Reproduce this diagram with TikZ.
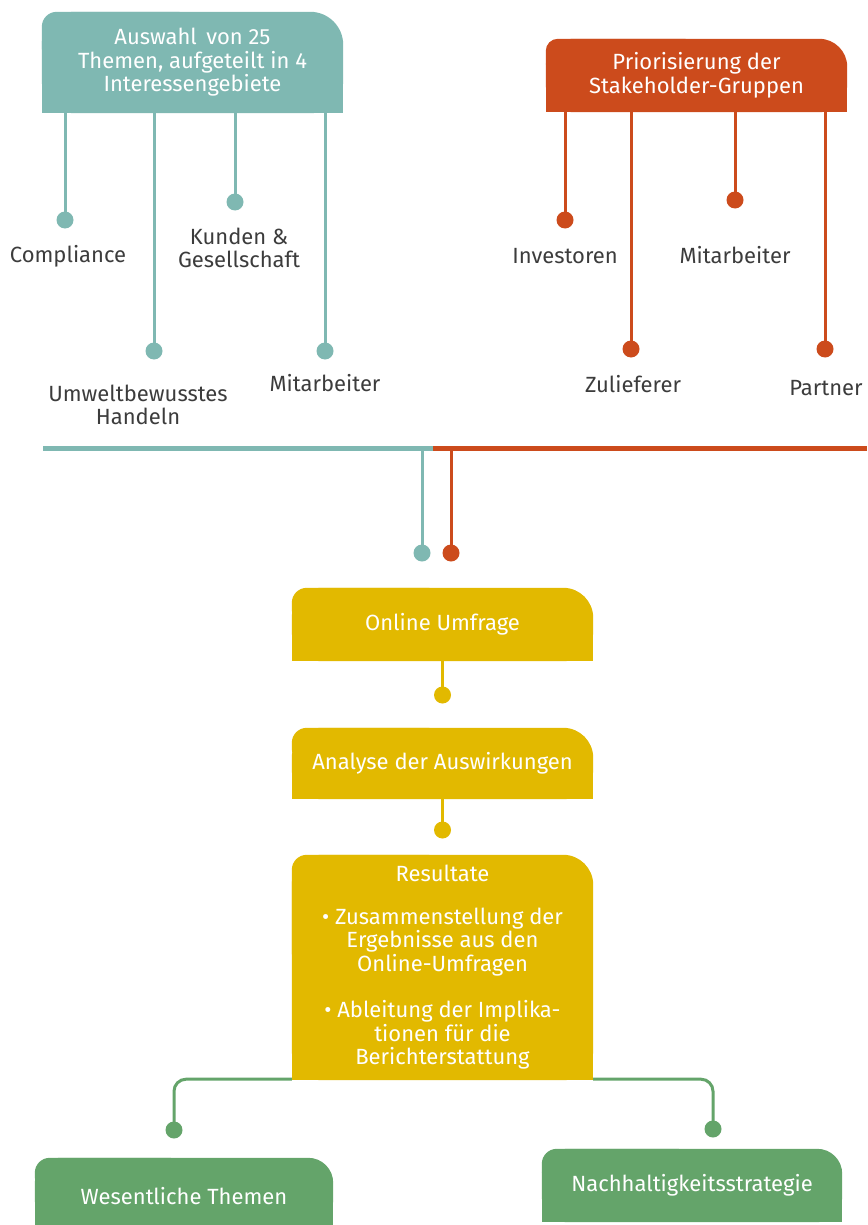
\documentclass[tikz,border=0pt]{standalone}
\usepackage{fontspec}
\setmainfont{Fira Sans}
\usetikzlibrary{backgrounds,calc}
\definecolor{cteal}{HTML}{7FB8B2}
\definecolor{corange}{HTML}{CC4B1C}
\definecolor{cyellow}{HTML}{E2B900}
\definecolor{cgreen}{HTML}{64A46A}
\definecolor{ctext}{HTML}{3C3C3C}
\newcommand\tabshape[4]{%
 \begin{pgfonlayer}{background}
 \fill[#2,rounded corners=#4] (#1.north west) rectangle (#1.south east);
 \fill[#2] (#1.west) rectangle (#1.south east);
 \fill[#2,rounded corners=#3] (#1.north west) rectangle (#1.center);
 \end{pgfonlayer}}
\begin{document}
\begin{tikzpicture}[x=1pt,y=-1pt,
  boxtext/.style={text=white,font=\fontsize{22}{23.5}\selectfont,align=center,inner sep=0pt},
  lbl/.style={text=ctext,font=\fontsize{22}{23}\selectfont,align=center,inner sep=0pt},
  pin/.style={circle,fill=#1,minimum size=17pt,inner sep=0pt},
  conn/.style={draw=#1,line width=3pt},
  bar/.style={draw=#1,line width=5pt},
]
\useasboundingbox (0,0) rectangle (867,1225);

% ---- teal group
\node[boxtext,minimum width=301pt,minimum height=101pt] (auswahl) at (192.5,62.5)
  {Auswahl\, von 25\\Themen, aufgeteilt in 4\\Interessengebiete};
\tabshape{auswahl}{cteal}{15pt}{33pt}
\node[pin=cteal] (t1) at (65,220) {};
\node[pin=cteal] (t2) at (154,351) {};
\node[pin=cteal] (t3) at (235,202) {};
\node[pin=cteal] (t4) at (325,351) {};
\foreach \p in {t1,t2,t3,t4} \draw[conn=cteal] (auswahl.south -| \p) -- (\p.center);
\node[lbl,anchor=base] (lt1) at (68,262) {Compliance};
\node[lbl] (lt3) at (239,248) {Kunden \&\\Gesellschaft};
\node[lbl] (lt2) at (138,405) {Umweltbewusstes\\Handeln};
\node[lbl,anchor=base] (lt4) at (325,391) {Mitarbeiter};

% ---- orange group
\node[boxtext,minimum width=301pt,minimum height=73pt] (prio) at (696.5,75.5)
  {Priorisierung der\\Stakeholder-Gruppen};
\tabshape{prio}{corange}{12pt}{28pt}
\node[pin=corange] (o1) at (565,220) {};
\node[pin=corange] (o2) at (631,349) {};
\node[pin=corange] (o3) at (735,200) {};
\node[pin=corange] (o4) at (825,349) {};
\foreach \p in {o1,o2,o3,o4} \draw[conn=corange] (prio.south -| \p) -- (\p.center);
\node[lbl,anchor=base] (lo1) at (565,263) {Investoren};
\node[lbl,anchor=base] (lo3) at (735,263) {Mitarbeiter};
\node[lbl,anchor=base] (lo2) at (633,392) {Zulieferer};
\node[lbl,anchor=base] (lo4) at (826,395) {Partner};

% ---- merge bar
\coordinate (hl) at (43,448);
\coordinate (hm) at (433,448);
\coordinate (hr) at (867,448);
\node[pin=cteal] (pt) at (422,553) {};
\node[pin=corange] (po) at (451,553) {};
\draw[conn=cteal] (pt |- hm) -- (pt.center);
\draw[conn=corange] (po |- hm) -- (po.center);
\draw[bar=cteal] (hl) -- (hm);
\draw[bar=corange] (hm) -- (hr);

% ---- yellow chain
\node[boxtext,minimum width=301pt,minimum height=73pt] (online) at (442.5,624.5) {Online Umfrage};
\tabshape{online}{cyellow}{15pt}{30pt}
\node[pin=cyellow] (y1) at (442.5,695) {};
\draw[conn=cyellow] (online.south) -- (y1.center);
\node[boxtext,minimum width=301pt,minimum height=71pt] (analyse) at (442.5,763.5) {Analyse der Auswirkungen};
\tabshape{analyse}{cyellow}{15pt}{30pt}
\node[pin=cyellow] (y2) at (442.5,830) {};
\draw[conn=cyellow] (analyse.south) -- (y2.center);
\node[boxtext,minimum width=301pt,minimum height=225pt] (result) at (442.5,967.5)
  {Resultate\\[19pt]
   • Zusammenstellung der\\Ergebnisse aus den\\Online-Umfragen\\[23pt]
   • Ableitung der Implika-\\tionen für die\\Berichterstattung};
\tabshape{result}{cyellow}{15pt}{30pt}

% ---- green outcome
\node[pin=cgreen] (g1) at (174,1130) {};
\node[pin=cgreen] (g2) at (713,1129) {};
\draw[conn=cgreen,rounded corners=12pt] ([yshift=1pt]result.south west) -- ([yshift=1pt]result.south west -| g1) -- (g1.center);
\draw[conn=cgreen,rounded corners=12pt] ([yshift=1pt]result.south east) -- ([yshift=1pt]result.south east -| g2) -- (g2.center);
\node[boxtext,minimum width=298pt,minimum height=67pt] (wes) at (184,1191.5)
  {\raisebox{-4.5pt}[\height][\depth]{Wesentliche Themen}};
\tabshape{wes}{cgreen}{15pt}{25pt}
\node[boxtext,minimum width=300pt,minimum height=73pt] (nach) at (692,1185.5) {Nachhaltigkeitsstrategie};
\tabshape{nach}{cgreen}{15pt}{25pt}
\end{tikzpicture}
\end{document}
